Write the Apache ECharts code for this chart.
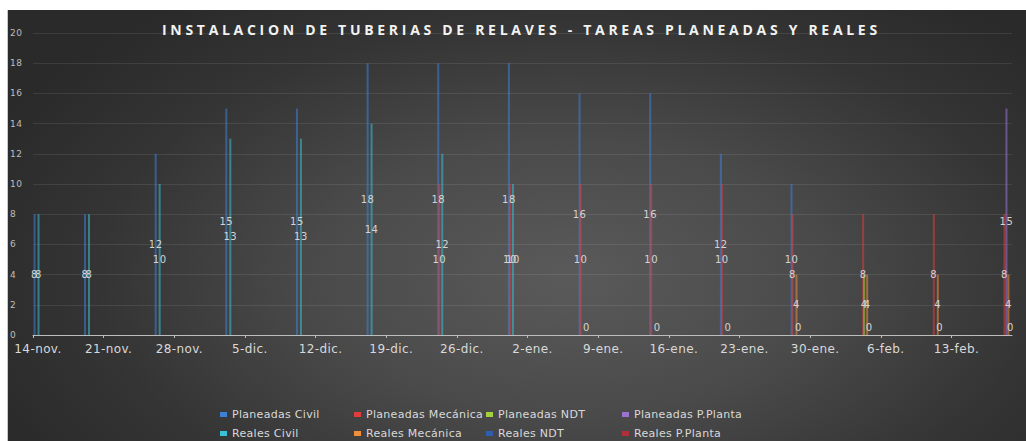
<!DOCTYPE html>
<html><head><meta charset="utf-8">
<script src="https://cdn.jsdelivr.net/npm/echarts@6/dist/echarts.min.js"></script>
<style>
html,body{margin:0;padding:0;background:#fff;overflow:hidden;}
#bg{position:absolute;left:7px;top:10px;width:1019px;height:431px;
 background: radial-gradient(ellipse 62% 80% at 55% 62%, #5a5a5a 0%, #4a4a4a 40%, #343434 75%, #2a2a2a 100%);
 border-left:1px solid #c8c8c8;}
#chart{position:absolute;left:0;top:0;width:1026px;height:441px;}
</style></head><body>
<div id="bg"></div><div id="chart"></div>
<script>
// ---- data ----
const titleText = 'INSTALACION DE TUBERIAS DE RELAVES - TAREAS PLANEADAS Y REALES';
const pointDates = ['2022-11-14','2022-11-19','2022-11-26','2022-12-03','2022-12-10','2022-12-17','2022-12-24','2022-12-31','2023-01-07','2023-01-14','2023-01-21','2023-01-28','2023-02-04','2023-02-11','2023-02-18'];
const tickLabels = ['14-nov.','21-nov.','28-nov.','5-dic.','12-dic.','19-dic.','26-dic.','2-ene.','9-ene.','16-ene.','23-ene.','30-ene.','6-feb.','13-feb.'];
const yTicks = [0,2,4,6,8,10,12,14,16,18,20];
const seriesNames = ['Planeadas Civil','Planeadas Mecánica','Planeadas NDT','Planeadas P.Planta','Reales Civil','Reales Mecánica','Reales NDT','Reales P.Planta'];
const planeadasCivil    = [8,8,12,15,15,18,18,18,16,16,12,10,null,null,null];
const planeadasMecanica = [null,null,null,null,null,null,10,10,10,10,10,8,8,8,8];
const planeadasNDT      = [null,null,null,null,null,null,null,null,null,null,null,null,4,null,null];
const planeadasPPlanta  = [null,null,null,null,null,null,null,null,null,null,null,null,null,null,15];
const realesCivil       = [8,8,10,13,13,14,12,10,null,null,null,null,null,null,null];
const realesMecanica    = [null,null,null,null,null,null,null,null,null,null,null,4,4,4,4];
const realesNDT         = [null,null,null,null,null,null,null,null,null,null,null,null,null,null,null];
const realesPPlanta     = [null,null,null,null,null,null,null,null,0,0,0,0,0,0,0];
const seriesValues = [planeadasCivil,planeadasMecanica,planeadasNDT,planeadasPPlanta,realesCivil,realesMecanica,realesNDT,realesPPlanta];
const seriesColors = ['#3c80d8','#e03c3c','#a4d13e','#9b72d4','#38c0d6','#f0903a','#2d5fae','#b0303a'];

// ---- build ----
const DAY = 86400000;
const start = Date.parse(pointDates[0] + 'T00:00:00Z');
const xPos = pointDates.map(d => (Date.parse(d + 'T00:00:00Z') - start) / DAY + 0.5);
function fade(hex, a) {
  const n = parseInt(hex.slice(1), 16);
  return 'rgba(' + (n >> 16) + ',' + ((n >> 8) & 255) + ',' + (n & 255) + ',' + a + ')';
}
const labelBase = { color: '#d4d4d4', fontSize: 10, fontFamily: 'DejaVu Sans', textBorderWidth: 0, textBorderColor: 'transparent' };

const series = seriesNames.map((name, i) => ({
  name: name,
  type: 'bar',
  barWidth: 2,
  barGap: '-50%',
  itemStyle: { color: fade(seriesColors[i], 0.55) },
  label: Object.assign({ show: true, position: 'inside' }, labelBase),
  data: seriesValues[i].map((v, k) => v === null ? [xPos[k], null] :
    (v === 0 ? { value: [xPos[k], v], label: Object.assign({ show: true, position: 'top', distance: 3 }, labelBase) } : [xPos[k], v]))
}));

const legendCols = [[0,4,220],[1,5,354],[2,6,486],[3,7,622]];
const legends = legendCols.map(c => ({
  data: [c[0], c[1]].map(j => ({ name: seriesNames[j], itemStyle: { color: seriesColors[j] } })),
  orient: 'vertical', left: c[2], top: 408, padding: 0, itemGap: 6,
  itemWidth: 7, itemHeight: 5, icon: 'rect',
  textStyle: { color: '#d9d9d9', fontSize: 11, fontFamily: 'DejaVu Sans', lineHeight: 13 },
  selectedMode: false
}));

const chart = echarts.init(document.getElementById('chart'), null, { renderer: 'svg' });
chart.setOption({
  backgroundColor: 'transparent',
  animation: false,
  title: {
    text: titleText, left: 162, top: 20, padding: 0,
    textStyle: { color: '#f2f2f2', fontSize: 14, fontWeight: 'bold', fontFamily: 'Open Sans', lineHeight: 18 }
  },
  legend: legends,
  grid: { left: 33, right: 14, top: 33, bottom: 106 },
  xAxis: {
    type: 'value', min: 0, max: 97, interval: 7,
    splitLine: { show: false },
    axisLine: { show: true, lineStyle: { color: '#bdbdbd', width: 1 } },
    axisTick: { show: true, length: 3, lineStyle: { color: '#bdbdbd' } },
    axisLabel: {
      color: '#d9d9d9', fontSize: 12, fontFamily: 'DejaVu Sans', margin: 8,
      padding: [0, 0, 0, 10], showMaxLabel: false,
      formatter: v => (v % 7 === 0 && tickLabels[v / 7]) ? tickLabels[v / 7] : ''
    }
  },
  yAxis: {
    type: 'value', min: yTicks[0], max: yTicks[yTicks.length - 1], interval: 2,
    axisLine: { show: false }, axisTick: { show: false },
    splitLine: { lineStyle: { color: 'rgba(255,255,255,0.09)', width: 1 } },
    axisLabel: { color: '#bdbdbd', fontSize: 9, fontFamily: 'DejaVu Sans', align: 'left', margin: 23 }
  },
  series: series
});

function spacing() {
  const texts = document.querySelectorAll('#chart text');
  texts.forEach(t => {
    const s = t.textContent;
    if (s === titleText) t.style.letterSpacing = '3.7px';
    else if (tickLabels.indexOf(s) >= 0) t.style.letterSpacing = '0.4px';
    else if (seriesNames.indexOf(s) >= 0) t.style.letterSpacing = '0.3px';
    else t.style.letterSpacing = '0.5px';
  });
}
chart.on('finished', spacing);
spacing();
</script>
</body></html>
